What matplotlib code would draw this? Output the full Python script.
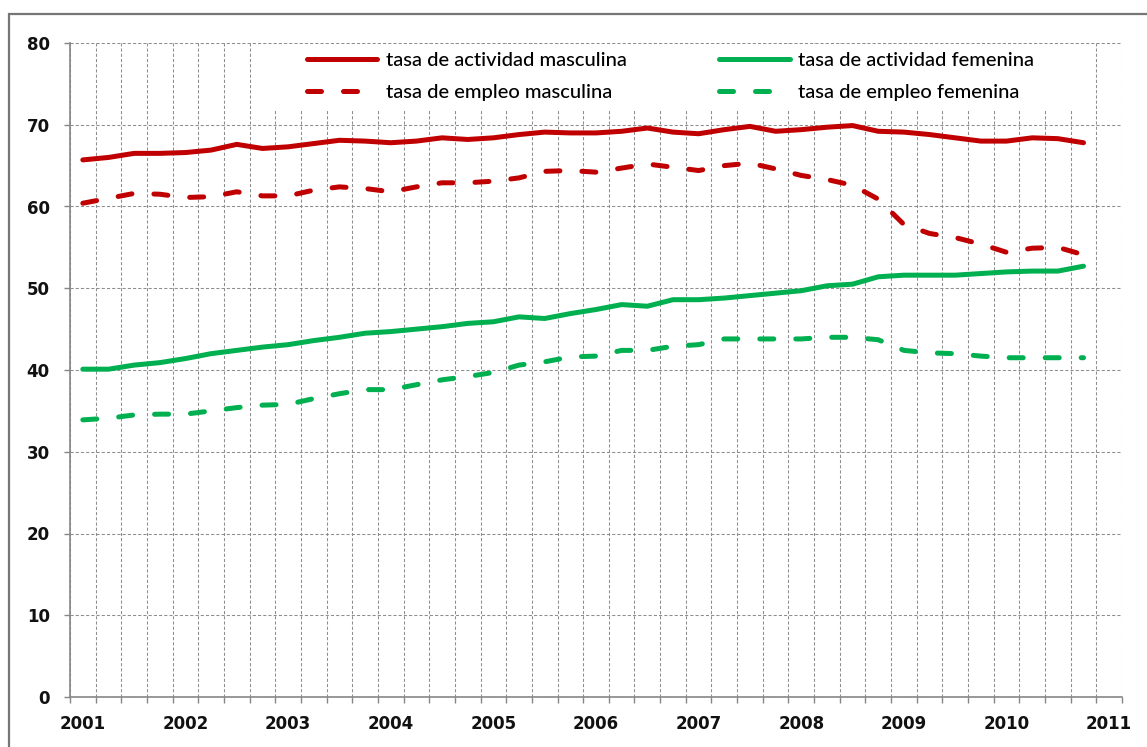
import numpy as np
import matplotlib
matplotlib.use("Agg")
from matplotlib import pyplot as plt
from matplotlib.patches import Rectangle

# quarterly rates 2001T1 .. 2010T4
years = ["2001", "2002", "2003", "2004", "2005", "2006",
         "2007", "2008", "2009", "2010", "2011"]

act_masc = [65.7, 66.0, 66.5, 66.5, 66.6, 66.9, 67.6, 67.1, 67.3, 67.7,
            68.1, 68.0, 67.8, 68.0, 68.4, 68.2, 68.4, 68.8, 69.1, 69.0,
            69.0, 69.2, 69.6, 69.1, 68.9, 69.4, 69.8, 69.2, 69.4, 69.7,
            69.9, 69.2, 69.1, 68.8, 68.4, 68.0, 68.0, 68.4, 68.3, 67.8]
emp_masc = [60.4, 61.0, 61.6, 61.5, 61.1, 61.2, 61.8, 61.3, 61.3, 62.0,
            62.4, 62.2, 61.8, 62.4, 62.9, 62.9, 63.1, 63.5, 64.3, 64.4,
            64.2, 64.7, 65.2, 64.8, 64.4, 65.0, 65.3, 64.6, 63.8, 63.3,
            62.6, 60.9, 57.8, 56.7, 56.2, 55.4, 54.4, 54.9, 55.0, 54.1]
act_fem = [40.1, 40.1, 40.6, 40.9, 41.4, 42.0, 42.4, 42.8, 43.1, 43.6,
           44.0, 44.5, 44.7, 45.0, 45.3, 45.7, 45.9, 46.5, 46.3, 46.9,
           47.4, 48.0, 47.8, 48.6, 48.6, 48.8, 49.1, 49.4, 49.7, 50.3,
           50.5, 51.4, 51.6, 51.6, 51.6, 51.8, 52.0, 52.1, 52.1, 52.7]
emp_fem = [33.9, 34.1, 34.5, 34.6, 34.6, 35.0, 35.4, 35.7, 35.8, 36.5,
           37.1, 37.6, 37.6, 38.2, 38.8, 39.2, 39.7, 40.6, 41.0, 41.6,
           41.7, 42.4, 42.4, 42.9, 43.1, 43.8, 43.8, 43.8, 43.8, 44.0,
           44.0, 43.7, 42.4, 42.1, 42.0, 41.7, 41.5, 41.5, 41.5, 41.5]

labels = ["tasa de actividad masculina", "tasa de empleo masculina",
          "tasa de actividad femenina", "tasa de empleo femenina"]

RED = "#C00000"
GREEN = "#00B050"
GRID = "#8e8e8e"
AXIS = "#868686"

W, H = 1147, 747
fig = plt.figure(figsize=(W / 100, H / 100), dpi=100)
ax = fig.add_axes([70 / W, 50 / H, (1122 - 70) / W, (697 - 43) / H])

x = np.arange(len(act_masc))
lw = 3.6
dash = (2.8, 4.4)
l1, = ax.plot(x, act_masc, color=RED, lw=lw, solid_capstyle="round", solid_joinstyle="round")
l2, = ax.plot(x, emp_masc, color=RED, lw=lw, dashes=dash, dash_capstyle="round", dash_joinstyle="round")
l3, = ax.plot(x, act_fem, color=GREEN, lw=lw, solid_capstyle="round", solid_joinstyle="round")
l4, = ax.plot(x, emp_fem, color=GREEN, lw=lw, dashes=dash, dash_capstyle="round", dash_joinstyle="round")

n_cat = len(years) * 4 - 3
ax.set_xlim(-0.5, n_cat - 0.5)
ax.set_ylim(0, 80)
ax.set_yticks(np.arange(0, 81, 10))
ax.set_xticks(np.arange(-0.5, n_cat, 1))
ax.set_xticklabels([])
ax.set_xticks(np.arange(0, n_cat, 4), minor=True)
ax.set_xticklabels(years, minor=True)

ax.grid(True, which="major", color=GRID, linestyle=(0, (3, 2)), linewidth=0.75)
ax.set_axisbelow(True)
for s in ["top", "right"]:
    ax.spines[s].set_visible(False)
for s in ["left", "bottom"]:
    ax.spines[s].set_color(AXIS)
    ax.spines[s].set_linewidth(1.2)

ax.tick_params(axis="x", which="major", length=4.5, width=1, color=AXIS, direction="out")
ax.tick_params(axis="x", which="minor", length=0, pad=13)
ax.tick_params(axis="y", length=4.5, width=1, color=AXIS, pad=10)
for t in ax.get_xticklabels(minor=True) + ax.get_yticklabels():
    t.set_fontfamily("DejaVu Sans")
    t.set_fontweight("bold")
    t.set_fontsize(12)
    t.set_color("#111111")

# white area behind the legend, hides the grid
ax.add_patch(Rectangle((265 / W, 1 - 109 / H), (1085 - 265) / W, (109 - 44) / H,
                       transform=fig.transFigure, facecolor="white", edgecolor="none", zorder=1))

ax.legend([l1, l2, l3, l4], labels, ncol=2, loc="upper left",
          bbox_to_anchor=(307 / W, 1 - 52 / H), bbox_transform=fig.transFigure,
          frameon=False, borderpad=0, borderaxespad=0,
          handlelength=3.5, handletextpad=0.4, columnspacing=4.6, labelspacing=0.72,
          prop={"family": "Lato", "size": 14.5, "weight": "medium"})

# chart area border (cropped at right and bottom)
fig.add_artist(Rectangle((9 / W, -0.1), 1.2, 0.1 + 1 - 14 / H, transform=fig.transFigure,
                         fill=False, edgecolor="#767676", linewidth=1.6))

fig.savefig("out.png", dpi=100)
